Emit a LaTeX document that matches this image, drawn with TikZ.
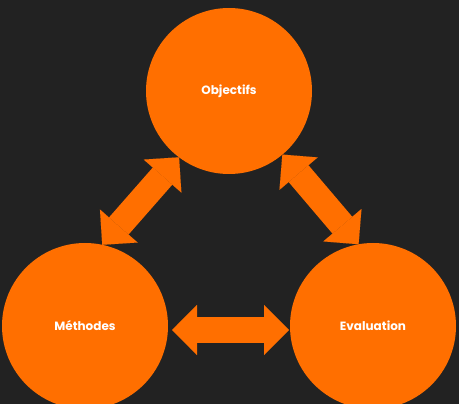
\documentclass[tikz,border=0pt]{standalone}
\usepackage{fontspec}
\setmainfont{Poppins}
\usepackage{xcolor}
\usepackage{tikz}
\usetikzlibrary{arrows.meta}

\definecolor{bgdark}{HTML}{222222}
\definecolor{orangebul}{HTML}{FF6F00}

\begin{document}
\begin{tikzpicture}[x=1pt, y=-1pt]
    % Styles for bubbles and links
    \tikzset{
        bubble/.style={circle, fill=orangebul, minimum size=166pt, inner sep=0pt, outer sep=0pt, text=white, font=\bfseries\fontsize{12}{14}\selectfont},
        link/.style={orangebul, line width=26pt,
            {Triangle[length=25pt, width=50pt, line width=0.01pt]}-{Triangle[length=25pt, width=50pt, line width=0.01pt]}}
    }

    % --- BACKGROUND ---
    \fill[bgdark] (0,0) rectangle (459,404);
    \useasboundingbox (0,0) rectangle (459,404);

    % --- BUBBLES ---
    \node[bubble] (obj) at (229,91) {Objectifs};
    \node[bubble] (met) at (85,326) {Méthodes};
    \node[bubble] (eva) at (373,326) {Evaluation};

    % --- LINKS ---
    \draw[link] (obj.233) -- (met.78);
    \draw[link] (obj.310) -- (eva.100);
    \draw[link] ([xshift=4pt,yshift=-4pt]met.east) -- ([xshift=-1pt,yshift=-4pt]eva.west);

\end{tikzpicture}
\end{document}
